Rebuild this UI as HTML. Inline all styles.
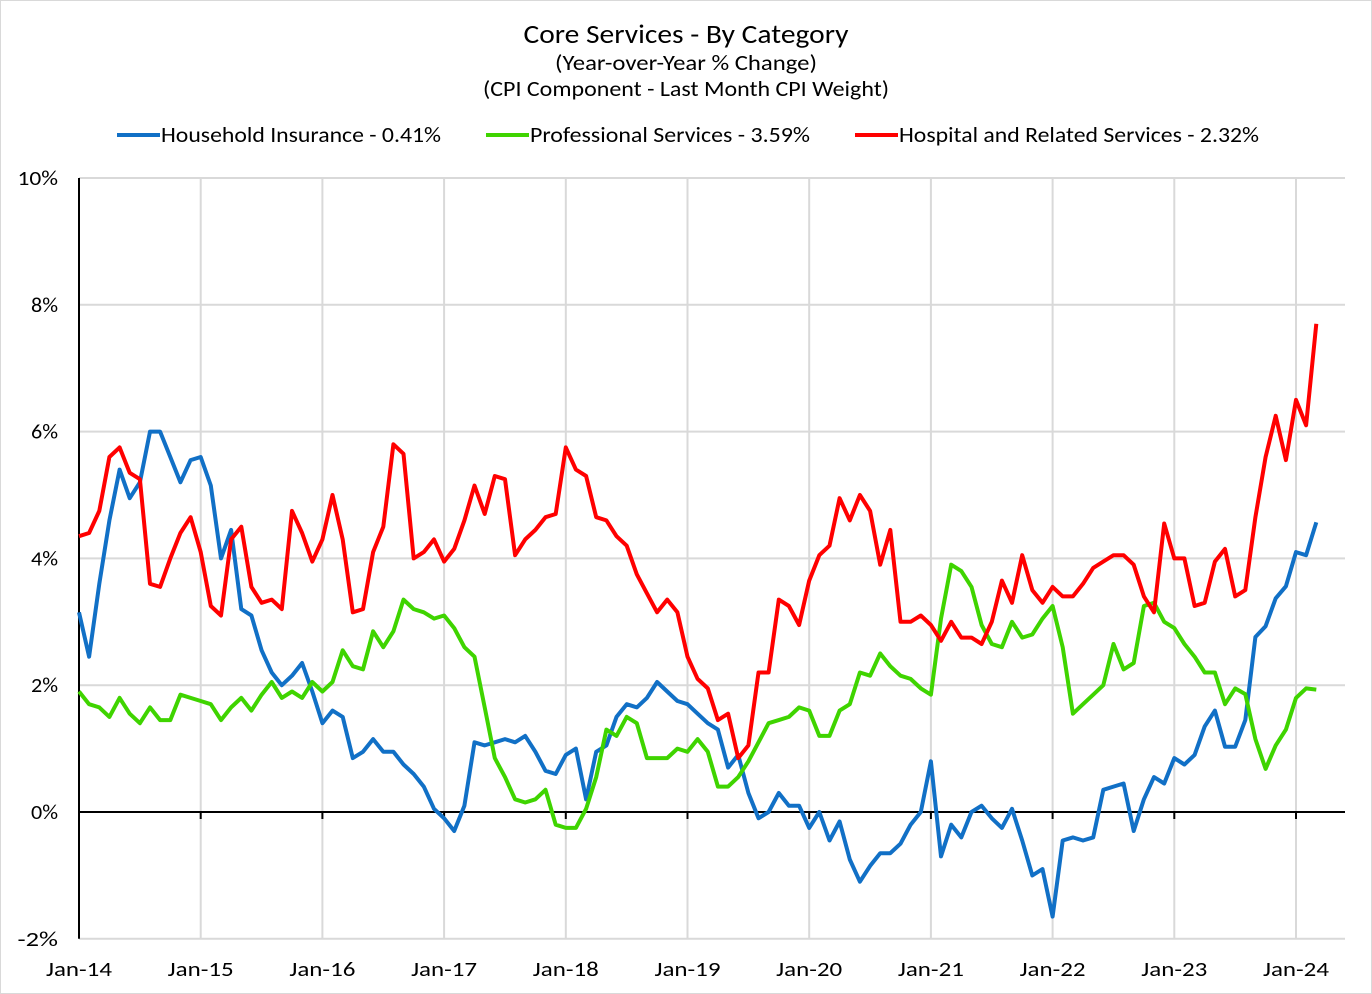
<!DOCTYPE html>
<html><head><meta charset="utf-8"><style>
body{margin:0;background:#fff;}
svg{display:block;font-family:"Carlito","Liberation Sans",sans-serif;}
</style></head><body>
<svg id="chart" width="1372" height="994">
<rect x="0.5" y="0.5" width="1371" height="993" fill="#fff" stroke="#d9d9d9"/>
<text x="686" y="43" text-anchor="middle" font-size="27" textLength="325" lengthAdjust="spacingAndGlyphs">Core Services  - By Category</text>
<text x="686" y="70" text-anchor="middle" font-size="22" textLength="262" lengthAdjust="spacingAndGlyphs">(Year-over-Year % Change)</text>
<text x="686" y="96" text-anchor="middle" font-size="22" textLength="406" lengthAdjust="spacingAndGlyphs">(CPI Component - Last Month CPI Weight)</text>
<g id="legend"></g>
<g id="grid"></g>
<g id="axes"></g>
<g id="series"></g>
</svg>
<script>
const yTicks=[-2,0,2,4,6,8,10];
const yTickLabels=["-2%","0%","2%","4%","6%","8%","10%"];
const xTickLabels=["Jan-14","Jan-15","Jan-16","Jan-17","Jan-18","Jan-19","Jan-20","Jan-21","Jan-22","Jan-23","Jan-24"];
const seriesNames=["Household Insurance - 0.41%","Professional Services - 3.59%","Hospital and Related Services - 2.32%"];
const householdInsurance=[3.15,2.45,3.6,4.6,5.4,4.95,5.2,6.0,6.0,5.6,5.2,5.55,
5.6,5.15,4.0,4.45,3.2,3.1,2.55,2.2,2.0,2.15,2.35,1.9,
1.4,1.6,1.5,0.85,0.95,1.15,0.95,0.95,0.75,0.6,0.4,0.05,
-0.1,-0.3,0.1,1.1,1.05,1.1,1.15,1.1,1.2,0.95,0.65,0.6,
0.9,1.0,0.2,0.95,1.05,1.5,1.7,1.65,1.8,2.05,1.9,1.75,
1.7,1.55,1.4,1.3,0.7,0.9,0.3,-0.1,0.0,0.3,0.1,0.1,
-0.25,0.0,-0.45,-0.15,-0.75,-1.1,-0.85,-0.65,-0.65,-0.5,-0.2,0.0,
0.8,-0.7,-0.2,-0.4,0.0,0.1,-0.1,-0.25,0.05,-0.45,-1.0,-0.9,
-1.65,-0.45,-0.4,-0.45,-0.4,0.35,0.4,0.45,-0.3,0.2,0.55,0.45,
0.85,0.75,0.9,1.35,1.6,1.03,1.03,1.45,2.76,2.93,3.37,3.56,
4.1,4.05,4.57];
const professionalServices=[1.9,1.7,1.65,1.5,1.8,1.55,1.4,1.65,1.45,1.45,1.85,1.8,
1.75,1.7,1.45,1.65,1.8,1.6,1.85,2.05,1.8,1.9,1.8,2.05,
1.9,2.05,2.55,2.3,2.25,2.85,2.6,2.85,3.35,3.2,3.15,3.05,
3.1,2.9,2.6,2.45,1.65,0.85,0.55,0.2,0.15,0.2,0.35,-0.2,
-0.25,-0.25,0.05,0.55,1.3,1.2,1.5,1.4,0.85,0.85,0.85,1.0,
0.95,1.15,0.95,0.4,0.4,0.55,0.8,1.1,1.4,1.45,1.5,1.65,
1.6,1.2,1.2,1.6,1.7,2.2,2.15,2.5,2.3,2.15,2.1,1.95,
1.85,3.05,3.9,3.8,3.55,2.95,2.65,2.6,3.0,2.75,2.8,3.05,
3.25,2.6,1.55,1.7,1.85,2.0,2.65,2.25,2.35,3.25,3.3,3.0,
2.9,2.65,2.45,2.2,2.2,1.7,1.95,1.86,1.15,0.68,1.05,1.3,
1.8,1.95,1.93];
const hospitalServices=[4.35,4.4,4.75,5.6,5.75,5.35,5.25,3.6,3.55,4.0,4.4,4.65,
4.1,3.25,3.1,4.3,4.5,3.55,3.3,3.35,3.2,4.75,4.4,3.95,
4.3,5.0,4.3,3.15,3.2,4.1,4.5,5.8,5.65,4.0,4.1,4.3,
3.95,4.15,4.6,5.15,4.7,5.3,5.25,4.05,4.3,4.45,4.65,4.7,
5.75,5.4,5.3,4.65,4.6,4.35,4.2,3.75,3.45,3.15,3.35,3.15,
2.45,2.1,1.95,1.45,1.55,0.85,1.05,2.2,2.2,3.35,3.25,2.95,
3.65,4.05,4.2,4.95,4.6,5.0,4.75,3.9,4.45,3.0,3.0,3.1,
2.95,2.7,3.0,2.75,2.75,2.65,3.0,3.65,3.3,4.05,3.5,3.3,
3.55,3.4,3.4,3.6,3.85,3.95,4.05,4.05,3.9,3.4,3.15,4.55,
4.0,4.0,3.25,3.3,3.95,4.15,3.4,3.5,4.65,5.6,6.25,5.55,
6.5,6.1,7.7];
const colors=["#1170c6","#3fd400","#ff0000"];
const NS="http://www.w3.org/2000/svg";
const X0=79,PX_MONTH=121.7/12,Y0=812,PX_PCT=63.4;
function xs(i){return X0+i*PX_MONTH;}
function ys(v){return Y0-v*PX_PCT;}
function mk(tag,attrs,parent){const e=document.createElementNS(NS,tag);for(const k in attrs)e.setAttribute(k,attrs[k]);parent.appendChild(e);return e;}
const grid=document.getElementById('grid'),axes=document.getElementById('axes'),ser=document.getElementById('series'),leg=document.getElementById('legend');
const xRight=1345;
yTicks.forEach((t,i)=>{
  if(t!==0){const l=mk('line',{x1:X0,x2:xRight,y1:ys(t),y2:ys(t),stroke:'#d9d9d9','stroke-width':2},grid);
  
  }
  const lab=yTickLabels[i];
  const tx=mk('text',{x:58,y:ys(t)+7,'text-anchor':'end','font-size':21,textLength:lab.length*13.5,lengthAdjust:'spacingAndGlyphs'},axes);
  tx.textContent=lab;
  
  
});
xTickLabels.forEach((lab,i)=>{
  const x=xs(i*12);
  if(i>0){const l=mk('line',{x1:x,x2:x,y1:ys(10),y2:ys(-2),stroke:'#d9d9d9','stroke-width':2},grid);
  
  }
  const tk=mk('line',{x1:x,x2:x,y1:Y0,y2:Y0+7,stroke:'#000','stroke-width':2},axes);
  
  
  const tx=mk('text',{x:x,y:976,'text-anchor':'middle','font-size':21,textLength:66,lengthAdjust:'spacingAndGlyphs'},axes);
  tx.textContent=lab;
  
  
});
const za=mk('line',{x1:X0,x2:xRight,y1:Y0,y2:Y0,stroke:'#000','stroke-width':2},axes);


const ya=mk('line',{x1:X0,x2:X0,y1:ys(10),y2:ys(-2),stroke:'#000','stroke-width':2},axes);


[householdInsurance,professionalServices,hospitalServices].forEach((d,s)=>{
  const pts=d.map((v,i)=>xs(i).toFixed(1)+','+ys(v).toFixed(1)).join(' ');
  const p=mk('polyline',{points:pts,fill:'none',stroke:colors[s],'stroke-width':4,'stroke-linejoin':'round'},ser);
  
  
});
const legX=[117,486,855];
const legW=[280,280,360];
seriesNames.forEach((n,i)=>{
  const g=mk('g',{},leg);
  
  
  mk('line',{x1:legX[i],x2:legX[i]+43,y1:135,y2:135,stroke:colors[i],'stroke-width':4},g);
  const t=mk('text',{x:legX[i]+44,y:142,'font-size':22,textLength:legW[i],lengthAdjust:'spacingAndGlyphs'},g);
  t.textContent=n;
});
</script>
</body></html>
